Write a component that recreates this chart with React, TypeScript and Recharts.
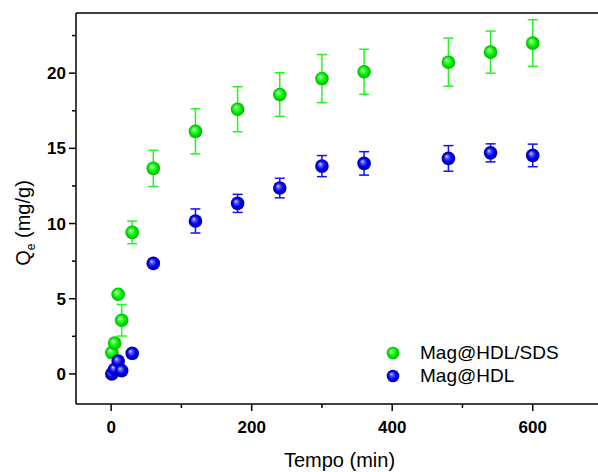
import { ScatterChart, Scatter, XAxis, YAxis, ErrorBar, ReferenceLine, Legend } from "recharts";

const times = [1, 5, 10, 15, 30, 60, 120, 180, 240, 300, 360, 480, 540, 600];
const sdsQe = [1.42, 2.05, 5.3, 3.57, 9.41, 13.67, 16.13, 17.6, 18.58, 19.64, 20.09, 20.73, 21.4, 22.0];
const sdsErr = [0, 0, 0, 1.05, 0.75, 1.2, 1.5, 1.5, 1.45, 1.6, 1.5, 1.6, 1.4, 1.55];
const hdlQe = [0, 0.31, 0.86, 0.22, 1.37, 7.35, 10.17, 11.34, 12.36, 13.82, 14.0, 14.33, 14.7, 14.53];
const hdlErr = [0, 0, 0, 0, 0, 0, 0.8, 0.6, 0.65, 0.7, 0.78, 0.85, 0.6, 0.75];

const xTicks = [0, 100, 200, 300, 400, 500, 600, 700];
const yTicks = [0, 2.5, 5, 7.5, 10, 12.5, 15, 17.5, 20, 22.5];

const seriesNames = ["Mag@HDL/SDS", "Mag@HDL"];
const seriesFills = ["url(#sphGreen)", "url(#sphBlue)"];

const FONT = "'Liberation Sans', Arial, sans-serif";

const sdsData = times.map((t, i) => ({ t, q: sdsQe[i], err: sdsErr[i] }));
const hdlData = times.map((t, i) => ({ t, q: hdlQe[i], err: hdlErr[i] }));

const GreenSphere = (props: any) => <circle cx={props.cx} cy={props.cy} r={6.8} fill="url(#sphGreen)" />;
const BlueSphere = (props: any) => <circle cx={props.cx} cy={props.cy} r={6.8} fill="url(#sphBlue)" />;

const XTick = ({ x, y, payload }: any) => {
  const major = payload.value % 200 === 0;
  return (
    <g>
      <line x1={x} x2={x} y1={y} y2={y + (major ? 7 : 4)} stroke="#000" strokeWidth={1.5} />
      {major && (
        <text x={x} y={y + 29} textAnchor="middle" fontFamily={FONT} fontWeight="bold" fontSize={17} fill="#000">
          {payload.value}
        </text>
      )}
    </g>
  );
};

const YTick = ({ x, y, payload }: any) => {
  const major = payload.value % 5 === 0;
  return (
    <g>
      <line x1={x} x2={x - (major ? 7 : 4)} y1={y} y2={y} stroke="#000" strokeWidth={1.5} />
      {major && (
        <text x={x - 10} y={y + 6} textAnchor="end" fontFamily={FONT} fontWeight="bold" fontSize={17} fill="#000">
          {payload.value}
        </text>
      )}
    </g>
  );
};

const XLabel = ({ viewBox }: any) => (
  <text x={viewBox.x + viewBox.width / 2} y={467} textAnchor="middle" fontFamily={FONT} fontSize={20} fill="#000">
    Tempo (min)
  </text>
);

const YLabel = () => (
  <text x={30} y={223} transform="rotate(-90, 30, 223)" textAnchor="middle" fontFamily={FONT} fontSize={20} fill="#000">
    <tspan>Q</tspan>
    <tspan fontSize={12} dy={5}>e</tspan>
    <tspan dy={-5}> (mg/g)</tspan>
  </text>
);

const LegendBox = () => (
  <div style={{ fontFamily: FONT, fontSize: 19, color: "#000" }}>
    {seriesNames.map((name, i) => (
      <div key={name} style={{ display: "flex", alignItems: "center", height: 23 }}>
        <svg width={14} height={14}>
          <circle cx={7} cy={7} r={6.3} fill={seriesFills[i]} />
        </svg>
        <span style={{ marginLeft: 20 }}>{name}</span>
      </div>
    ))}
  </div>
);

export default function App() {
  return (
    <div style={{ position: "absolute", left: 0, top: 0, width: 598, height: 472, overflow: "hidden", background: "#fff" }}>
      <svg width={0} height={0} style={{ position: "absolute" }}>
        <defs>
          <radialGradient id="sphGreen" cx="0.5" cy="0.5" r="0.5" fx="0.36" fy="0.34">
            <stop offset="0" stopColor="#f4fff4" />
            <stop offset="0.22" stopColor="#66ff66" />
            <stop offset="0.6" stopColor="#00f000" />
            <stop offset="1" stopColor="#00b400" />
          </radialGradient>
          <radialGradient id="sphBlue" cx="0.5" cy="0.5" r="0.5" fx="0.36" fy="0.34">
            <stop offset="0" stopColor="#e8e8ff" />
            <stop offset="0.22" stopColor="#6666ff" />
            <stop offset="0.6" stopColor="#0000f0" />
            <stop offset="1" stopColor="#0000a8" />
          </radialGradient>
        </defs>
      </svg>
      <ScatterChart width={606} height={472} margin={{ top: 13, right: 3, left: 0, bottom: 0 }}>
        <XAxis
          type="number"
          dataKey="t"
          domain={[-50, 700]}
          ticks={xTicks}
          allowDataOverflow
          height={68}
          tickSize={0}
          tickMargin={0}
          tickLine={false}
          tick={<XTick />}
          axisLine={{ stroke: "#000", strokeWidth: 1.5 }}
          label={<XLabel />}
          interval={0}
        />
        <YAxis
          type="number"
          dataKey="q"
          domain={[-2, 24]}
          ticks={yTicks}
          allowDataOverflow
          width={76}
          tickSize={0}
          tickMargin={0}
          tickLine={false}
          tick={<YTick />}
          axisLine={{ stroke: "#000", strokeWidth: 1.5 }}
          label={<YLabel />}
          interval={0}
        />
        <ReferenceLine y={24} stroke="#000" strokeWidth={1.5} />
        <Legend
          layout="vertical"
          align="center"
          verticalAlign="middle"
          content={<LegendBox />}
          wrapperStyle={{ position: "absolute", left: 386, top: 341, width: 200 }}
        />
        <Scatter name={seriesNames[0]} data={sdsData} shape={<GreenSphere />} isAnimationActive={false}>
          <ErrorBar dataKey="err" direction="y" width={5} stroke="#22f522" strokeWidth={1.5} />
        </Scatter>
        <Scatter name={seriesNames[1]} data={hdlData} shape={<BlueSphere />} isAnimationActive={false}>
          <ErrorBar dataKey="err" direction="y" width={5} stroke="#1010f0" strokeWidth={1.5} />
        </Scatter>
      </ScatterChart>
    </div>
  );
}
